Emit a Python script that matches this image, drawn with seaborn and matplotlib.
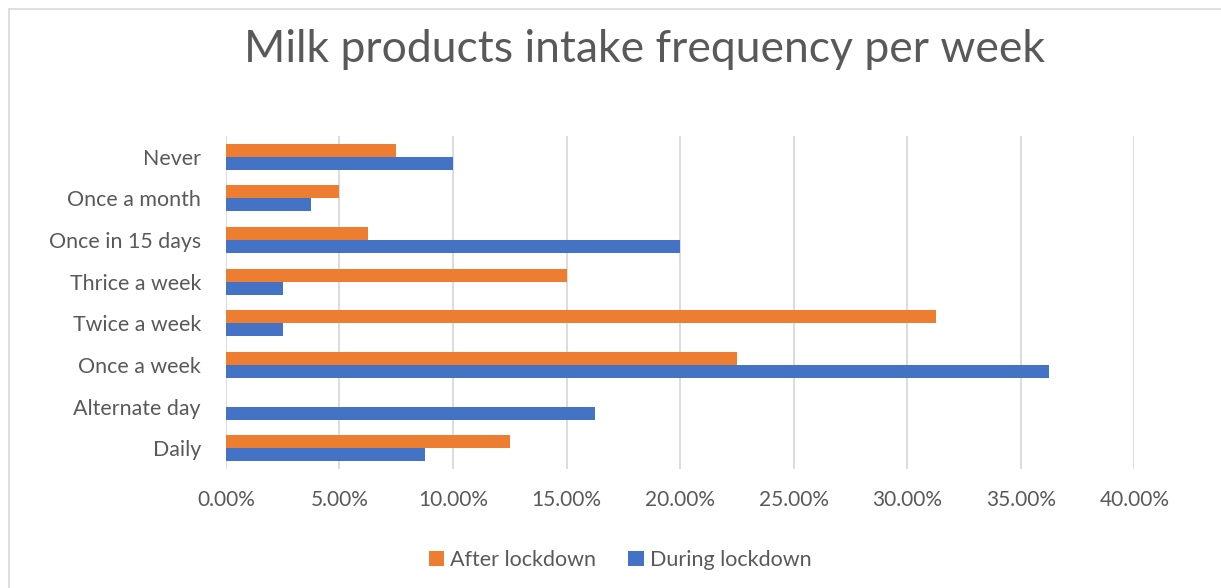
import numpy as np
import pandas as pd
import matplotlib
matplotlib.use('Agg')
import matplotlib.pyplot as plt
import seaborn as sns
from matplotlib.ticker import PercentFormatter
from matplotlib.patches import Rectangle

categories = ['Never', 'Once a month', 'Once in 15 days', 'Thrice a week',
              'Twice a week', 'Once a week', 'Alternate day', 'Daily']
after_lockdown = [7.50, 5.00, 6.25, 15.00, 31.25, 22.50, 0.00, 12.50]
during_lockdown = [10.00, 3.75, 20.00, 2.50, 2.50, 36.25, 16.25, 8.75]
series = ['After lockdown', 'During lockdown']
colors = ['#ED7D31', '#4472C4']

df = pd.DataFrame({
    'Frequency': categories * 2,
    'Percent': [v / 100 for v in after_lockdown + during_lockdown],
    'Period': [series[0]] * len(categories) + [series[1]] * len(categories),
})

sns.set_style('white')
plt.rcParams['font.family'] = ['Lato', 'DejaVu Sans']

fig = plt.figure(figsize=(12.21, 5.88), dpi=100)
ax = fig.add_axes([0.185, 0.202, 0.744, 0.567])

sns.barplot(data=df, x='Percent', y='Frequency', hue='Period',
            order=categories, hue_order=series, palette=colors,
            orient='h', width=0.62, gap=0, saturation=1,
            edgecolor='none', ax=ax)

ax.set_xlim(0, 0.40)
ax.set_xticks(np.arange(0, 0.401, 0.05))
ax.xaxis.set_major_formatter(PercentFormatter(1.0, decimals=2))
ax.grid(axis='x', color='#D9D9D9', linewidth=1.3)
ax.set_axisbelow(True)
for s in ax.spines.values():
    s.set_visible(False)
ax.tick_params(axis='y', length=0, labelsize=15.4, colors='#595959', pad=18)
ax.tick_params(axis='x', length=0, labelsize=15, colors='#595959', pad=15)
ax.set_xlabel('')
ax.set_ylabel('')

ax.legend(loc='upper center', bbox_to_anchor=(0.434, -0.185), ncol=2,
          frameon=False, fontsize=15.5, handlelength=0.7, handleheight=0.7,
          handletextpad=0.3, columnspacing=1.5, labelcolor='#595959')

fig.text(0.528, 0.915, 'Milk products intake frequency per week',
         ha='center', va='center', fontsize=32, color='#595959')

fig.patches.append(Rectangle((0.007, -0.01), 1.0, 0.995, transform=fig.transFigure,
                             fill=False, edgecolor='#D9D9D9', linewidth=1.2))

plt.savefig('out.png', dpi=100)
